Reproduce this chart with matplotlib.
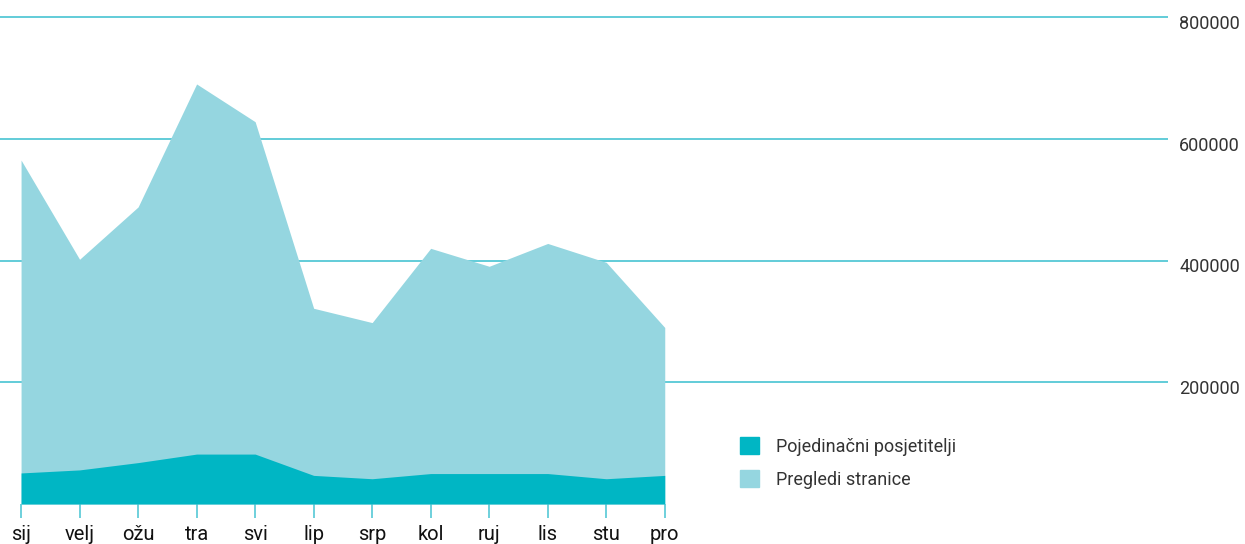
import matplotlib.pyplot as plt
import matplotlib.transforms as mtransforms
from matplotlib.patches import Patch

plt.rcParams['font.family'] = ['Roboto', 'DejaVu Sans']

# data
months = ["sij", "velj", "ožu", "tra", "svi", "lip", "srp", "kol", "ruj", "lis", "stu", "pro"]
page_views = [565000, 402000, 488000, 690000, 628000, 321500, 298000, 420000, 390500, 428000, 397000, 290000]
visitors = [51000, 56000, 68000, 82000, 82000, 47000, 41500, 50000, 50000, 50000, 41500, 47000]
y_ticks = [200000, 400000, 600000, 800000]

light = "#95d6e0"
dark = "#00b6c4"
grid_col = "#55c8d6"
text_col = "#333333"

fig = plt.figure(figsize=(12.45, 5.44), dpi=100)
# axes from the top edge down to the baseline at y=504 px
ax = fig.add_axes([0.0, 40 / 544, 1168 / 1245, 504 / 544])

x = list(range(len(months)))
ax.fill_between(x, 0, page_views, color=light, linewidth=0, zorder=2)
ax.fill_between(x, 0, visitors, color=dark, linewidth=0, zorder=3)

for t in y_ticks:
    ax.axhline(t, color=grid_col, linewidth=1.3, zorder=1)

ax.set_xlim(-0.36, 19.6)
ax.set_ylim(0, 800000 * 504 / 487)

for s in ax.spines.values():
    s.set_visible(False)

ax.set_xticks(x)
ax.set_xticklabels(months, fontsize=14.5, color="#111111")
ax.tick_params(axis="x", length=10, width=1.2, color=grid_col, pad=5)

ax.yaxis.tick_right()
ax.set_yticks(y_ticks)
ax.set_yticklabels([str(t) for t in y_ticks], fontsize=13, color=text_col)
ax.tick_params(axis="y", length=0, pad=8)
# labels sit a little below their gridlines in the reference
shift = mtransforms.ScaledTranslation(0, -5 / 100, fig.dpi_scale_trans)
for lab in ax.get_yticklabels():
    lab.set_transform(lab.get_transform() + shift)

handles = [Patch(color=dark, label="Pojedinačni posjetitelji"),
           Patch(color=light, label="Pregledi stranice")]
fig.legend(handles=handles, loc="upper left", bbox_to_anchor=(724 / 1245, 1 - 421 / 544),
           frameon=False, fontsize=13, handlelength=1.05, handleheight=1.05,
           handletextpad=0.95, labelspacing=0.8, labelcolor=text_col)

fig.savefig("out.png", dpi=100)
